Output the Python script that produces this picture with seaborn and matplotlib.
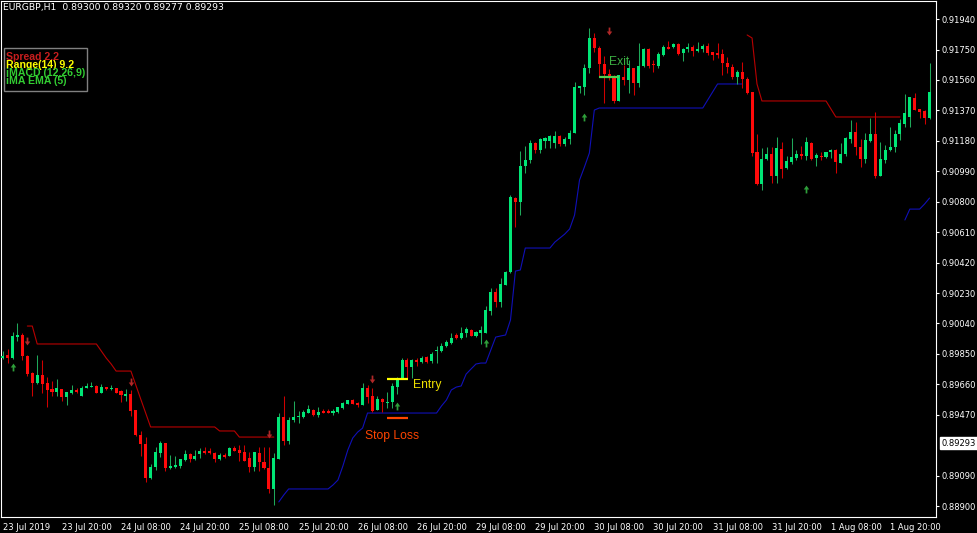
import matplotlib
matplotlib.use("Agg")
import matplotlib.pyplot as plt
import matplotlib.transforms as mtransforms
from matplotlib import font_manager
from matplotlib.patches import Rectangle
import numpy as np
import pandas as pd
import seaborn as sns

# ---------------- data (EURGBP H1) ----------------
opens = [
    0.89824, 0.89843, 0.89824, 0.89955, 0.89968, 0.89837, 0.89731, 0.89668, 0.89718, 0.89668,
    0.89631, 0.89612, 0.89631, 0.89581, 0.89606, 0.89625, 0.89587, 0.89637, 0.89643, 0.89650,
    0.89606, 0.89643, 0.89631, 0.89637, 0.89618, 0.89587, 0.89600, 0.89500, 0.89344, 0.89288,
    0.89075, 0.89144, 0.89231, 0.89294, 0.89138, 0.89144, 0.89150, 0.89188, 0.89225, 0.89194,
    0.89225, 0.89244, 0.89244, 0.89231, 0.89194, 0.89219, 0.89213, 0.89263, 0.89250, 0.89238,
    0.89200, 0.89144, 0.89231, 0.89175, 0.89138, 0.89007, 0.89194, 0.89456, 0.89306, 0.89437,
    0.89456, 0.89456, 0.89481, 0.89500, 0.89469, 0.89493, 0.89493, 0.89481, 0.89487, 0.89512,
    0.89537, 0.89562, 0.89543, 0.89531, 0.89637, 0.89587, 0.89500, 0.89568, 0.89543, 0.89550,
    0.89643, 0.89693, 0.89812, 0.89768, 0.89812, 0.89799, 0.89831, 0.89806, 0.89868, 0.89868,
    0.89899, 0.89918, 0.89968, 0.89949, 0.89980, 0.89999, 0.89962, 0.89980, 0.89980, 0.90118,
    0.90236, 0.90174, 0.90280, 0.90361, 0.90823, 0.90798, 0.91023, 0.91060, 0.91166, 0.91123,
    0.91179, 0.91179, 0.91166, 0.91210, 0.91160, 0.91191, 0.91229, 0.91510, 0.91516, 0.91634,
    0.91822, 0.91759, 0.91659, 0.91597, 0.91578, 0.91429, 0.91578, 0.91560, 0.91634, 0.91541,
    0.91647, 0.91753, 0.91659, 0.91647, 0.91716, 0.91766, 0.91766, 0.91784, 0.91728, 0.91753,
    0.91766, 0.91741, 0.91753, 0.91772, 0.91734, 0.91728, 0.91722, 0.91666, 0.91641, 0.91578,
    0.91610, 0.91566, 0.91485, 0.91110, 0.90910, 0.91066, 0.91098, 0.90960, 0.91129, 0.91010,
    0.91048, 0.91073, 0.91098, 0.91085, 0.91166, 0.91073, 0.91085, 0.91079, 0.91110, 0.91123,
    0.91042, 0.91098, 0.91191, 0.91235, 0.91141, 0.91066, 0.91179, 0.91223, 0.90960, 0.91060,
    0.91123, 0.91141, 0.91223, 0.91285, 0.91329, 0.91447, 0.91379, 0.91366, 0.91322,
]
highs = [
    0.89868, 0.89881, 0.89987, 0.90043, 0.89980, 0.89843, 0.89737, 0.89843, 0.89812, 0.89706,
    0.89681, 0.89693, 0.89631, 0.89612, 0.89656, 0.89637, 0.89650, 0.89668, 0.89675, 0.89656,
    0.89662, 0.89643, 0.89656, 0.89637, 0.89625, 0.89631, 0.89625, 0.89500, 0.89369, 0.89331,
    0.89163, 0.89269, 0.89306, 0.89294, 0.89219, 0.89213, 0.89194, 0.89250, 0.89231, 0.89250,
    0.89263, 0.89269, 0.89263, 0.89238, 0.89231, 0.89231, 0.89269, 0.89275, 0.89281, 0.89281,
    0.89238, 0.89238, 0.89269, 0.89269, 0.89269, 0.89231, 0.89481, 0.89587, 0.89456, 0.89556,
    0.89493, 0.89500, 0.89531, 0.89506, 0.89518, 0.89506, 0.89506, 0.89506, 0.89518, 0.89550,
    0.89562, 0.89568, 0.89550, 0.89668, 0.89656, 0.89637, 0.89587, 0.89575, 0.89612, 0.89668,
    0.89706, 0.89824, 0.89824, 0.89818, 0.89824, 0.89837, 0.89837, 0.89862, 0.89899, 0.89918,
    0.89937, 0.89980, 0.89980, 0.90018, 0.90018, 0.90005, 0.89993, 0.90024, 0.90149, 0.90261,
    0.90261, 0.90324, 0.90367, 0.90842, 0.90829, 0.91116, 0.91148, 0.91185, 0.91173, 0.91198,
    0.91204, 0.91216, 0.91241, 0.91216, 0.91204, 0.91248, 0.91547, 0.91522, 0.91659, 0.91884,
    0.91853, 0.91772, 0.91709, 0.91628, 0.91591, 0.91591, 0.91653, 0.91684, 0.91634, 0.91791,
    0.91759, 0.91759, 0.91684, 0.91734, 0.91778, 0.91803, 0.91791, 0.91791, 0.91759, 0.91791,
    0.91778, 0.91797, 0.91784, 0.91791, 0.91734, 0.91791, 0.91753, 0.91703, 0.91659, 0.91622,
    0.91672, 0.91578, 0.91485, 0.91223, 0.91135, 0.91141, 0.91141, 0.91204, 0.91173, 0.91085,
    0.91198, 0.91123, 0.91148, 0.91204, 0.91173, 0.91104, 0.91110, 0.91110, 0.91129, 0.91129,
    0.91166, 0.91204, 0.91310, 0.91297, 0.91191, 0.91229, 0.91322, 0.91360, 0.91173, 0.91154,
    0.91266, 0.91248, 0.91316, 0.91472, 0.91454, 0.91478, 0.91379, 0.91372, 0.91666,
]
lows = [
    0.89818, 0.89793, 0.89818, 0.89930, 0.89812, 0.89712, 0.89587, 0.89662, 0.89606, 0.89518,
    0.89587, 0.89587, 0.89556, 0.89531, 0.89600, 0.89606, 0.89587, 0.89637, 0.89643, 0.89606,
    0.89606, 0.89625, 0.89625, 0.89606, 0.89550, 0.89556, 0.89462, 0.89337, 0.89213, 0.89050,
    0.89069, 0.89125, 0.89206, 0.89119, 0.89131, 0.89138, 0.89138, 0.89181, 0.89175, 0.89188,
    0.89200, 0.89225, 0.89225, 0.89175, 0.89188, 0.89200, 0.89213, 0.89244, 0.89181, 0.89181,
    0.89113, 0.89119, 0.89119, 0.89131, 0.88982, 0.88907, 0.89194, 0.89281, 0.89288, 0.89425,
    0.89419, 0.89450, 0.89481, 0.89462, 0.89456, 0.89481, 0.89481, 0.89469, 0.89481, 0.89506,
    0.89537, 0.89537, 0.89518, 0.89531, 0.89543, 0.89487, 0.89500, 0.89487, 0.89512, 0.89512,
    0.89600, 0.89693, 0.89700, 0.89700, 0.89774, 0.89793, 0.89793, 0.89793, 0.89793, 0.89862,
    0.89893, 0.89912, 0.89943, 0.89943, 0.89955, 0.89962, 0.89955, 0.89912, 0.89980, 0.90093,
    0.90143, 0.90143, 0.90280, 0.90355, 0.90642, 0.90717, 0.90979, 0.91042, 0.91104, 0.91104,
    0.91135, 0.91135, 0.91135, 0.91148, 0.91148, 0.91160, 0.91229, 0.91478, 0.91466, 0.91603,
    0.91734, 0.91578, 0.91416, 0.91560, 0.91416, 0.91429, 0.91528, 0.91478, 0.91466, 0.91516,
    0.91641, 0.91634, 0.91610, 0.91634, 0.91709, 0.91753, 0.91759, 0.91716, 0.91678, 0.91734,
    0.91709, 0.91734, 0.91734, 0.91716, 0.91684, 0.91697, 0.91591, 0.91603, 0.91566, 0.91535,
    0.91510, 0.91472, 0.91085, 0.90904, 0.90873, 0.91060, 0.90917, 0.90917, 0.90948, 0.91004,
    0.91035, 0.91060, 0.91066, 0.91060, 0.91060, 0.91023, 0.91060, 0.91073, 0.91073, 0.90979,
    0.91042, 0.91085, 0.91166, 0.91091, 0.91017, 0.91042, 0.91173, 0.90948, 0.90960, 0.91042,
    0.91116, 0.91110, 0.91185, 0.91266, 0.91266, 0.91372, 0.91322, 0.91285, 0.91316,
]
closes = [
    0.89837, 0.89824, 0.89962, 0.89968, 0.89837, 0.89724, 0.89668, 0.89718, 0.89662, 0.89625,
    0.89612, 0.89637, 0.89581, 0.89612, 0.89625, 0.89612, 0.89637, 0.89650, 0.89650, 0.89606,
    0.89643, 0.89631, 0.89637, 0.89606, 0.89593, 0.89600, 0.89493, 0.89344, 0.89288, 0.89075,
    0.89144, 0.89238, 0.89294, 0.89138, 0.89150, 0.89156, 0.89194, 0.89225, 0.89194, 0.89213,
    0.89244, 0.89231, 0.89231, 0.89194, 0.89219, 0.89206, 0.89263, 0.89244, 0.89231, 0.89181,
    0.89144, 0.89238, 0.89175, 0.89138, 0.89007, 0.89200, 0.89456, 0.89306, 0.89437, 0.89456,
    0.89462, 0.89487, 0.89506, 0.89469, 0.89487, 0.89481, 0.89481, 0.89493, 0.89518, 0.89543,
    0.89562, 0.89537, 0.89531, 0.89637, 0.89581, 0.89493, 0.89568, 0.89550, 0.89550, 0.89650,
    0.89693, 0.89812, 0.89768, 0.89812, 0.89799, 0.89824, 0.89799, 0.89849, 0.89874, 0.89899,
    0.89924, 0.89949, 0.89949, 0.89980, 0.90005, 0.89962, 0.89987, 0.89999, 0.90124, 0.90236,
    0.90174, 0.90286, 0.90361, 0.90829, 0.90798, 0.91023, 0.91060, 0.91166, 0.91123, 0.91191,
    0.91198, 0.91210, 0.91210, 0.91160, 0.91191, 0.91229, 0.91516, 0.91522, 0.91634, 0.91822,
    0.91759, 0.91659, 0.91597, 0.91578, 0.91429, 0.91591, 0.91560, 0.91634, 0.91541, 0.91647,
    0.91753, 0.91647, 0.91653, 0.91722, 0.91766, 0.91753, 0.91784, 0.91722, 0.91753, 0.91766,
    0.91741, 0.91753, 0.91772, 0.91728, 0.91716, 0.91716, 0.91666, 0.91641, 0.91578, 0.91610,
    0.91566, 0.91478, 0.91104, 0.90910, 0.91066, 0.91098, 0.90960, 0.91135, 0.91004, 0.91054,
    0.91079, 0.91098, 0.91085, 0.91173, 0.91066, 0.91091, 0.91079, 0.91110, 0.91123, 0.91048,
    0.91098, 0.91198, 0.91235, 0.91141, 0.91066, 0.91185, 0.91223, 0.90960, 0.91066, 0.91123,
    0.91141, 0.91223, 0.91291, 0.91354, 0.91454, 0.91372, 0.91360, 0.91322, 0.91485,
]

# trailing-stop style indicator lines (one value per bar, starting at the given bar)
red1_start = 5
red1_vals = [
    0.90024, 0.90024,
    0.89912, 0.89912, 0.89912, 0.89912, 0.89912, 0.89912, 0.89912, 0.89912, 0.89912, 0.89912,
    0.89912, 0.89912, 0.89912,
    0.89868, 0.89824, 0.89787,
    0.89743, 0.89743, 0.89743, 0.89743,
    0.89656, 0.89568, 0.89481,
    0.89394, 0.89394, 0.89394, 0.89394, 0.89394, 0.89394, 0.89394, 0.89394, 0.89394, 0.89394,
    0.89394, 0.89394, 0.89394, 0.89394,
    0.89369, 0.89369, 0.89369, 0.89369,
    0.89331, 0.89331, 0.89331, 0.89331, 0.89331, 0.89331, 0.89331, 0.89331,
]
red2_start = 151
red2_vals = [
    0.91841, 0.91822, 0.91535,
    0.91429, 0.91429, 0.91429, 0.91429, 0.91429, 0.91429, 0.91429, 0.91429, 0.91429, 0.91429,
    0.91429, 0.91429, 0.91429, 0.91429,
    0.91379,
    0.91329, 0.91329, 0.91329, 0.91329, 0.91329, 0.91329, 0.91329, 0.91329, 0.91329, 0.91329,
    0.91329, 0.91329, 0.91329, 0.91329,
]
blue1_start = 56
blue1_vals = [
    0.88926, 0.88969,
    0.89007, 0.89007, 0.89007, 0.89007, 0.89007, 0.89007, 0.89007, 0.89007, 0.89007,
    0.89032, 0.89063, 0.89150, 0.89250, 0.89325, 0.89362, 0.89387,
    0.89481, 0.89481, 0.89481, 0.89481, 0.89481, 0.89481, 0.89481, 0.89481, 0.89481, 0.89481,
    0.89481, 0.89481, 0.89481, 0.89481, 0.89481,
    0.89525, 0.89562, 0.89625, 0.89643, 0.89650, 0.89724, 0.89756, 0.89787, 0.89793, 0.89793,
    0.89874, 0.89955, 0.89962, 0.89968, 0.90062, 0.90367, 0.90374,
    0.90511, 0.90511, 0.90511, 0.90511, 0.90511, 0.90511,
    0.90548, 0.90573, 0.90598, 0.90630, 0.90717, 0.90935, 0.91017, 0.91104, 0.91372,
    0.91385, 0.91385, 0.91385, 0.91385, 0.91385, 0.91385, 0.91385, 0.91385, 0.91385, 0.91385,
    0.91385, 0.91385, 0.91385, 0.91385, 0.91385, 0.91385, 0.91385, 0.91385, 0.91385, 0.91385,
    0.91385, 0.91385,
    0.91435, 0.91485,
    0.91535, 0.91535, 0.91535, 0.91535, 0.91535, 0.91535,
]
blue2_start = 183
blue2_vals = [0.90686, 0.90754, 0.90754, 0.90754, 0.90786, 0.90823]

# signal arrows
down_arrow_bars = [5, 26, 54, 75, 123]
down_arrow_prices = [0.89930, 0.89675, 0.89350, 0.89693, 0.91866]
up_arrow_bars = [2, 80, 98, 118, 163]
up_arrow_prices = [0.89768, 0.89525, 0.89918, 0.91329, 0.90879]

# axes labels
time_tick_bars = [0, 12, 24, 36, 48, 60, 72, 84, 96, 108, 120, 132, 144, 156, 168, 180]
time_tick_labels = ["23 Jul 2019", "23 Jul 20:00", "24 Jul 08:00", "24 Jul 20:00",
                    "25 Jul 08:00", "25 Jul 20:00", "26 Jul 08:00", "26 Jul 20:00",
                    "29 Jul 08:00", "29 Jul 20:00", "30 Jul 08:00", "30 Jul 20:00",
                    "31 Jul 08:00", "31 Jul 20:00", "1 Aug 08:00", "1 Aug 20:00"]
price_ticks = [0.91940, 0.91750, 0.91560, 0.91370, 0.91180, 0.90990, 0.90800, 0.90610,
               0.90420, 0.90230, 0.90040, 0.89850, 0.89660, 0.89470, 0.89090, 0.88900]
price_tick_labels = ["0.91940", "0.91750", "0.91560", "0.91370", "0.91180", "0.90990",
                     "0.90800", "0.90610", "0.90420", "0.90230", "0.90040", "0.89850",
                     "0.89660", "0.89470", "0.89090", "0.88900"]
current_price = 0.89293
current_price_label = "0.89293"
header_text = "EURGBP,H1  0.89300 0.89320 0.89277 0.89293"
info_lines = ["Spread 2.2", "Range(14) 9.2", "iMACD (12,26,9)", "iMA EMA (5)"]

# trade annotations
entry_price, stop_price, exit_price = 0.89693, 0.89450, 0.91578

# ---------------- styling ----------------
sns.set_theme(style="dark", rc={"axes.facecolor": "black", "figure.facecolor": "black",
                                "axes.grid": False, "axes.edgecolor": "white"})
available = {f.name for f in font_manager.fontManager.ttflist}
narrow = "Liberation Sans Narrow" if "Liberation Sans Narrow" in available else "DejaVu Sans"
regular = "Liberation Sans" if "Liberation Sans" in available else "DejaVu Sans"
plt.rcParams["font.family"] = [regular, "DejaVu Sans"]

BULL_BODY, BEAR_BODY = "#00e676", "#ff0a0a"
BULL_WICK, BEAR_WICK = "#1fa85a", "#d00000"
RED_LINE, BLUE_LINE = "#b80000", "#1010b8"

W, H = 977, 533
fig = plt.figure(figsize=(W / 100, H / 100), dpi=100, facecolor="black")
ax = fig.add_axes([1 / W, 16 / H, 935 / W, 516 / H], facecolor="black")

o = np.array(opens); h = np.array(highs); l = np.array(lows); c = np.array(closes)
bars = np.arange(len(o))
bull = c >= o

ax.vlines(bars, l, h, colors=np.where(bull, BULL_WICK, BEAR_WICK), linewidth=0.75, zorder=2)
body_h = np.maximum(np.abs(c - o), 0.00007)
ax.bar(bars, body_h, bottom=np.minimum(o, c), width=0.62,
       color=np.where(bull, BULL_BODY, BEAR_BODY), linewidth=0, zorder=3)

def seg_df(start, vals, seg):
    return pd.DataFrame({"bar": np.arange(start, start + len(vals)), "price": vals, "seg": seg})

red_df = pd.concat([seg_df(red1_start, red1_vals, 0), seg_df(red2_start, red2_vals, 1)])
blue_df = pd.concat([seg_df(blue1_start, blue1_vals, 0), seg_df(blue2_start, blue2_vals, 1)])
sns.lineplot(data=red_df, x="bar", y="price", units="seg", estimator=None, color=RED_LINE,
             linewidth=0.8, ax=ax, legend=False, zorder=1)
sns.lineplot(data=blue_df, x="bar", y="price", units="seg", estimator=None, color=BLUE_LINE,
             linewidth=0.8, ax=ax, legend=False, zorder=1)

# MT4-like thick arrow markers
down_marker = [(-0.22, 1.0), (0.22, 1.0), (0.22, 0.0), (0.7, 0.0), (0.0, -1.0),
               (-0.7, 0.0), (-0.22, 0.0), (-0.22, 1.0)]
up_marker = [(x, -y) for x, y in down_marker]
ax.scatter(down_arrow_bars, down_arrow_prices, marker=down_marker, s=32, color="#b02828",
           linewidths=0, zorder=4)
ax.scatter(up_arrow_bars, up_arrow_prices, marker=up_marker, s=32, color="#2e9e3a",
           linewidths=0, zorder=4)

# trade markers
ax.hlines(entry_price, 77.95, 82.2, color="#ffff00", linewidth=1.6, zorder=5)
ax.text(83.2, 0.89656, "Entry", color="#f0e000", fontsize=8.7, ha="left", va="center", zorder=5)
ax.hlines(stop_price, 77.95, 82.2, color="#ff4500", linewidth=1.6, zorder=5)
ax.text(73.5, 0.89337, "Stop Loss", color="#ff4500", fontsize=8.7, ha="left", va="center", zorder=5)
ax.hlines(exit_price, 120.95, 125.0, color="#50d050", linewidth=1.6, zorder=5)
ax.text(123.0, 0.91672, "Exit", color="#3cb043", fontsize=8.7, ha="left", va="center", zorder=5)

ax.set_xlim(-0.345, 189.31)
ax.set_ylim(0.88832, 0.92053)
ax.set_xlabel(""); ax.set_ylabel("")

ax.yaxis.tick_right()
ax.set_yticks(price_ticks)
ax.set_yticklabels(price_tick_labels, family=narrow)
ax.set_xticks(time_tick_bars)
ax.set_xticklabels(time_tick_labels, family=narrow, ha="left")
ax.tick_params(axis="both", colors="white", length=2.5, width=0.8, pad=1.5, labelsize=6)
for s in ax.spines.values():
    s.set_color("white"); s.set_linewidth(0.8); s.set_visible(True)

# current price box
trans = mtransforms.blended_transform_factory(ax.transAxes, ax.transData)
ax.text(1.006, current_price, current_price_label, transform=trans, color="black", fontsize=6,
        family=narrow, ha="left", va="center", clip_on=False,
        bbox=dict(boxstyle="square,pad=0.18", fc="white", ec="white"), zorder=6)

# header and info box
fig.text(3 / W, 1 - 7.5 / H, header_text, color="white", fontsize=6.7, family=narrow,
         ha="left", va="center")
fig.add_artist(Rectangle((4 / W, 1 - 91 / H), 83 / W, 43 / H, transform=fig.transFigure,
                         fill=True, facecolor="black", edgecolor="#808080", linewidth=1))
info_colors = ["#c81e1e", "#ffff00", "#32cd32", "#32cd32"]
for i, (txt, col) in enumerate(zip(info_lines, info_colors)):
    fig.text(6 / W, 1 - (56.5 + 8.3 * i) / H, txt, color=col, fontsize=7.6, fontweight="bold",
             ha="left", va="center")

fig.savefig("out.png", dpi=100, facecolor="black")
